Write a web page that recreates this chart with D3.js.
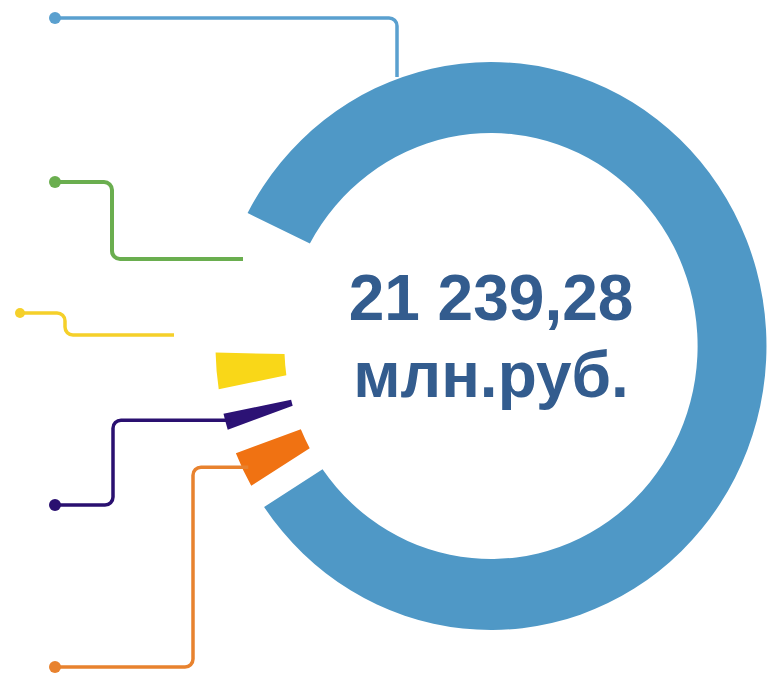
<!DOCTYPE html>
<html>
<head>
<meta charset="utf-8">
<script src="https://cdn.jsdelivr.net/npm/d3@7"></script>
<style>
  html, body { margin: 0; padding: 0; background: #fff; }
  svg { display: block; }
</style>
</head>
<body>
<svg id="vis" width="769" height="674"></svg>
<script>
// shares of the total, mln rub
let categories = ["Сегмент 1", "Сегмент 2", "Сегмент 3", "Сегмент 4", "Сегмент 5"];
let values = [17852, 730, 494, 736, 1428];
let sliceColors = ["#4F98C6", "#F07212", "#2C1275", "#F9D718", "#ffffff"];
let lineColors = ["#5AA0CF", "#E8822E", "#2A1070", "#F5D02A", "#6AAE4F"];
let totalLines = ["21 239,28", "млн.руб."];

let svg = d3.select("#vis"),
    width = 769,
    height = 674;

let cx = 491, cy = 346, sx = 0.97;
let ro = 284, ri = 213;
let deg = Math.PI / 180;
let start = 295.4 * deg;

let pie = d3.pie()
    .sort(null)
    .value(d => d)
    .startAngle(start)
    .endAngle(start + 2 * Math.PI);

let arc = d3.arc()
    .innerRadius(ri)
    .outerRadius(ro)
    .padAngle(0.1)
    .padRadius(250);

let arcs = pie(values);

let ring = svg.append("g")
    .attr("transform", "translate(" + cx + "," + cy + ") scale(" + sx + ",1)");

ring.selectAll("path")
    .data(arcs)
    .enter()
    .append("path")
    .attr("d", arc)
    .attr("fill", (d, i) => sliceColors[i]);

// point on the outer edge of a slice, at its middle angle
function edgePoint(d) {
    let a = (d.startAngle + d.endAngle) / 2,
        r = ro - 6;
    return [cx + sx * r * Math.sin(a), cy - r * Math.cos(a)];
}

// callout layout: dot, elbow x, then where the line goes
let callouts = [
    {i: 0, dot: [55, 18], pts: [[55, 18], [397, 18], [397, 77]], r: 6, w: 3.5},
    {i: 4, dot: [55, 182], pts: [[55, 182], [112, 182], [112, 259], [243, 259]], r: 6, w: 4},
    {i: 3, dot: [20, 313], pts: [[20, 313], [65, 313], [65, 335], [174, 335]], r: 5, w: 3.5},
    {i: 2, dot: [55, 505], elbow: 113, r: 6, w: 3.5},
    {i: 1, dot: [55, 667], elbow: 193, r: 6, w: 3.5}
];

callouts.forEach(function (c) {
    let pts = c.pts;
    if (!pts) {
        let e = edgePoint(arcs[c.i]);
        pts = [c.dot, [c.elbow, c.dot[1]], [c.elbow, e[1]], e];
    }
    let p = d3.path();
    p.moveTo(pts[0][0], pts[0][1]);
    for (let k = 1; k < pts.length - 1; k++) {
        p.arcTo(pts[k][0], pts[k][1], pts[k + 1][0], pts[k + 1][1], 8);
    }
    p.lineTo(pts[pts.length - 1][0], pts[pts.length - 1][1]);

    svg.append("path")
        .attr("d", p.toString())
        .attr("fill", "none")
        .attr("stroke", lineColors[c.i])
        .attr("stroke-width", c.w);

    svg.append("circle")
        .attr("cx", c.dot[0])
        .attr("cy", c.dot[1])
        .attr("r", c.r)
        .attr("fill", lineColors[c.i]);
});

// total in the middle
svg.selectAll("text.total")
    .data(totalLines)
    .enter()
    .append("text")
    .attr("class", "total")
    .attr("x", 491)
    .attr("y", (d, i) => 320 + i * 77)
    .attr("text-anchor", "middle")
    .attr("font-family", "'Liberation Sans', Arial, sans-serif")
    .attr("font-weight", "bold")
    .attr("font-size", 64)
    .attr("fill", "#335C8E")
    .text(d => d);
</script>
</body>
</html>
